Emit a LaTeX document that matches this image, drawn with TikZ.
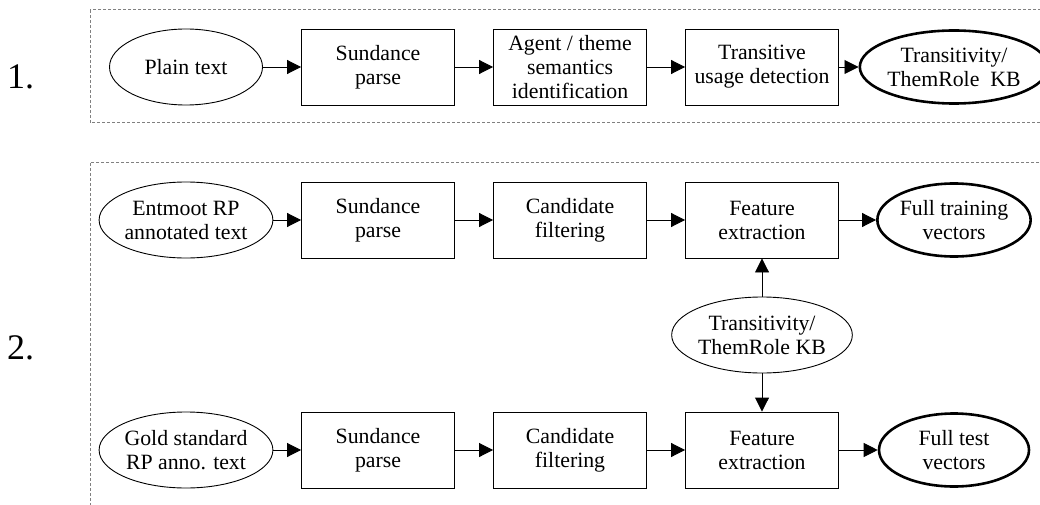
\documentclass[tikz,border=0pt]{standalone}
\usepackage{fontspec}
\setmainfont{Liberation Serif}
\usetikzlibrary{shapes.geometric,arrows.meta}
\begin{document}
\begin{tikzpicture}[x=1pt,y=-1pt,
  every node/.style={font=\fontsize{21.8}{24}\selectfont, align=center, inner sep=0pt},
  stepbox/.style={draw, line width=0.9pt, minimum width=153pt, minimum height=76pt},
  datum/.style={draw, ellipse, line width=0.9pt, minimum width=153pt, minimum height=76pt},
  result/.style={datum, line width=2.6pt, minimum width=150pt, minimum height=73pt},
  flow/.style={line width=0.9pt, -{Triangle[length=14pt,width=14pt]}},
  frame/.style={draw=gray, line width=1pt, dash pattern=on 3pt off 2pt},
  stage/.style={font=\fontsize{36}{40}\selectfont, anchor=base west}]

\useasboundingbox (0,0) rectangle (1040,505);
\fill[white] (0,0) rectangle (1040,505);
\clip (0,0) rectangle (1040,505);

% dashed frames around the two pipelines
\draw[frame] (90,10) rectangle (1060,123);
\draw[frame] (90,163) rectangle (1060,530);

% stage numbers
\node[stage] (n1) at (7,89) {1.};
\node[stage] (n2) at (7,359) {2.};

% pipeline 1
\node[datum]   (p1) at (186,67) {Plain text};
\node[stepbox] (s1) at (378,67) {Sundance\\parse};
\node[stepbox] (a1) at (570,67) {Agent / theme\\semantics\\identification};
\node[stepbox] (t1) at (762,67) {Transitive\\usage detection};
\node[result]  (k1) at (954,67) {Transitivity/\\ThemRole\ \ KB};
\draw[flow] (p1) -- (s1);
\draw[flow] (s1) -- (a1);
\draw[flow] (a1) -- (t1);
\draw[flow] (t1) -- (k1);

% pipeline 2: training branch
\node[datum]   (e2) at (186,220) {Entmoot RP\\annotated text};
\node[stepbox] (s2) at (378,220) {Sundance\\parse};
\node[stepbox] (c2) at (570,220) {Candidate\\filtering};
\node[stepbox] (f2) at (762,220) {Feature\\extraction};
\node[result]  (v2) at (954,220) {Full training\\vectors};
\draw[flow] (e2) -- (s2);
\draw[flow] (s2) -- (c2);
\draw[flow] (c2) -- (f2);
\draw[flow] (f2) -- (v2);

% shared knowledge base
\node[datum] (kb) at (762,335) {Transitivity/\\ThemRole KB};

% pipeline 2: test branch
\node[datum]   (g3) at (186,450) {Gold standard\\RP anno. text};
\node[stepbox] (s3) at (378,450) {Sundance\\parse};
\node[stepbox] (c3) at (570,450) {Candidate\\filtering};
\node[stepbox] (f3) at (762,450) {Feature\\extraction};
\node[result]  (v3) at (954,450) {Full test\\vectors};
\draw[flow] (g3) -- (s3);
\draw[flow] (s3) -- (c3);
\draw[flow] (c3) -- (f3);
\draw[flow] (f3) -- (v3);

\draw[flow] (kb) -- (f2);
\draw[flow] (kb) -- (f3);
\end{tikzpicture}
\end{document}
